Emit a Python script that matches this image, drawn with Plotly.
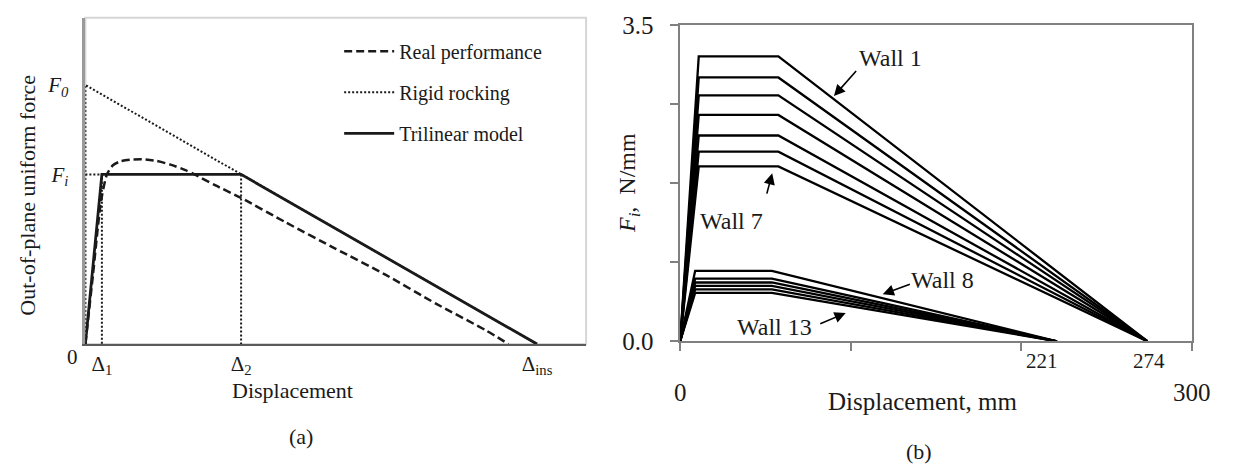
import plotly.graph_objects as go

# ---------------- Panel (a): schematic (normalised units) ----------------
DELTA_1 = 3.3
DELTA_2 = 31.1
DELTA_INS = 90.2
F_I = 52.0
F_0 = 79.4

REAL_X = [0, 1.5, 3.1, 4.3, 5.5, 7.0, 9.0, 11.5, 14.0, 17.0, 20.0, 21.8, 26.0, 31.1,
          40.0, 50.0, 60.0, 70.0, 80.0, 84.5]
REAL_Y = [0, 21.0, 43.6, 52.0, 54.8, 56.0, 56.5, 56.6, 56.2, 55.0, 53.3, 52.0, 48.6, 44.8,
          37.3, 29.2, 21.2, 12.4, 4.2, 0]

TRILINEAR_X = [0, DELTA_1, DELTA_2, DELTA_INS]
TRILINEAR_Y = [0, F_I, F_I, 0]

ROCKING_X = [0, 0, DELTA_INS]
ROCKING_Y = [0, F_0, 0]

GUIDE_X = [0, DELTA_1, DELTA_1, None, DELTA_2, DELTA_2]
GUIDE_Y = [F_I, F_I, 0, None, F_I, 0]

A_XTICK_VALS = [DELTA_1, DELTA_2, DELTA_INS]
A_XTICK_TEXT = ["Δ<sub>1</sub>", "Δ<sub>2</sub>", "Δ<sub>ins</sub>"]
A_YTICK_VALS = [F_I, F_0]
A_YTICK_TEXT = ["<i>F<sub>i</sub></i>", "<i>F<sub>0</sub></i>"]

# ---------------- Panel (b): trilinear curves of walls ----------------
WALL_NAMES = ["Wall %d" % i for i in range(1, 14)]
WALL_FI = [3.155, 2.922, 2.724, 2.507, 2.279, 2.100, 1.936,
           0.780, 0.693, 0.651, 0.613, 0.575, 0.536]
WALL_D1 = [10.9, 10.9, 10.9, 10.9, 10.9, 10.9, 10.9,
           8.8, 8.8, 8.8, 8.8, 8.8, 8.8]
WALL_D2 = [57.6, 57.6, 57.6, 57.6, 57.6, 57.6, 57.6,
           53.8, 53.8, 53.8, 53.8, 53.8, 53.8]
WALL_DINS = [274, 274, 274, 274, 274, 274, 274,
             221, 221, 221, 221, 221, 221]

B_XTICK_VALS = [0, 300]
B_XTICK_TEXT = ["0", "300"]
B_XMINOR_VALS = [100, 200]
B_YTICK_VALS = [0, 3.5]
B_YTICK_TEXT = ["0.0", "3.5"]
B_YMINOR_VALS = [0.875, 1.75, 2.625]
B_XMARK_VALS = [221, 274]
B_XMARK_LABEL_X = [212, 275]

CALLOUT_TEXT = ["Wall 1", "Wall 7", "Wall 8", "Wall 13"]
CALLOUT_TEXT_X = [123.3, 30.2, 154.0, 55.2]
CALLOUT_TEXT_Y = [3.137, 1.337, 0.679, 0.157]
CALLOUT_TAIL_X = [104.0, 50.6, 135.6, 81.3]
CALLOUT_TAIL_Y = [3.009, 1.619, 0.637, 0.188]
CALLOUT_HEAD_X = [90.2, 54.0, 118.8, 97.1]
CALLOUT_HEAD_Y = [2.716, 1.860, 0.522, 0.313]

W, H = 1243, 476
SERIF = "Liberation Serif"
INK = "#1a1a1a"

fig = go.Figure()

# Panel (a) traces
fig.add_trace(go.Scatter(x=REAL_X, y=REAL_Y, mode="lines", name="Real performance",
                         line=dict(color=INK, width=2.5, dash="8px,4px", shape="spline", smoothing=0.6),
                         legendgroup="a", xaxis="x", yaxis="y", cliponaxis=False))
fig.add_trace(go.Scatter(x=ROCKING_X, y=ROCKING_Y, mode="lines", name="Rigid rocking",
                         line=dict(color=INK, width=2, dash="2px,2px"),
                         legendgroup="b", xaxis="x", yaxis="y", cliponaxis=False))
fig.add_trace(go.Scatter(x=GUIDE_X, y=GUIDE_Y, mode="lines", showlegend=False,
                         line=dict(color=INK, width=2, dash="2px,2px"),
                         xaxis="x", yaxis="y", cliponaxis=False))
fig.add_trace(go.Scatter(x=TRILINEAR_X, y=TRILINEAR_Y, mode="lines", name="Trilinear model",
                         line=dict(color=INK, width=2.8),
                         legendgroup="c", xaxis="x", yaxis="y", cliponaxis=False))

# Panel (b) traces
for name, fi, d1, d2, dins in zip(WALL_NAMES, WALL_FI, WALL_D1, WALL_D2, WALL_DINS):
    fig.add_trace(go.Scatter(x=[0, d1, d2, dins], y=[0, fi, fi, 0], mode="lines", name=name,
                             showlegend=False, line=dict(color="#000", width=2.3),
                             xaxis="x2", yaxis="y2", cliponaxis=False))

fig.update_layout(
    width=W, height=H,
    margin=dict(l=0, r=0, t=0, b=0),
    paper_bgcolor="white", plot_bgcolor="white",
    font=dict(family=SERIF, color=INK, size=20),
    showlegend=True,
    legend=dict(x=340 / W, y=1 - 20 / H, xanchor="left", yanchor="top",
                bgcolor="rgba(0,0,0,0)", font=dict(family=SERIF, size=20, color=INK),
                tracegroupgap=12, itemwidth=50),
    xaxis=dict(domain=[81 / W, 592 / W], range=[0, 100], anchor="y",
               tickvals=A_XTICK_VALS, ticktext=A_XTICK_TEXT, ticks="",
               tickfont=dict(family=SERIF, size=21, color=INK),
               showgrid=False, zeroline=False, showline=True, linecolor="#5a5a5a", linewidth=1.5,
               layer="below traces"),
    yaxis=dict(domain=[(H - 351) / H, (H - 5) / H], range=[0, 100], anchor="x",
               tickvals=A_YTICK_VALS, ticktext=A_YTICK_TEXT, ticks="",
               tickfont=dict(family=SERIF, size=21, color=INK), ticklabelstandoff=10,
               showgrid=False, zeroline=False, showline=True, linecolor="#9a9a9a", linewidth=2.5,
               layer="below traces"),
    xaxis2=dict(domain=[688 / W, 1210 / W], range=[0, 300], anchor="y2",
                tickvals=B_XTICK_VALS, ticktext=B_XTICK_TEXT, ticks="outside", ticklen=8,
                tickcolor="#808080", tickwidth=1.5, ticklabelstandoff=20,
                minor=dict(tickvals=B_XMINOR_VALS, ticks="outside", ticklen=8,
                           tickcolor="#808080", tickwidth=1.5),
                tickfont=dict(family=SERIF, size=25, color=INK), ticklabeloverflow="allow",
                showgrid=False, zeroline=False, showline=True, linecolor="#808080", linewidth=1.5,
                mirror=True),
    yaxis2=dict(domain=[(H - 348) / H, (H - 13) / H], range=[0, 3.5], anchor="x2",
                tickvals=B_YTICK_VALS, ticktext=B_YTICK_TEXT, ticks="outside", ticklen=8,
                tickcolor="#808080", tickwidth=1.5, ticklabelstandoff=12,
                minor=dict(tickvals=B_YMINOR_VALS, ticks="outside", ticklen=8,
                           tickcolor="#808080", tickwidth=1.5),
                tickfont=dict(family=SERIF, size=25, color=INK), ticklabeloverflow="allow",
                showgrid=False, zeroline=False, showline=True, linecolor="#808080", linewidth=1.5,
                mirror=True),
)

# light frame around panel (a)
fig.add_shape(type="rect", xref="x domain", yref="y domain", x0=0, x1=1, y0=0, y1=1,
              line=dict(color="#d6d6d6", width=2), layer="below")


def txt(text, x, y, size, xref="paper", yref="paper", angle=0):
    return dict(text=text, xref=xref, yref=yref, x=x, y=y, xanchor="center", yanchor="middle",
                textangle=angle, showarrow=False, font=dict(family=SERIF, size=size, color=INK))


ann = []
ann.append(txt("0", 67.5 / W, 1 - 364.5 / H, 21))
ann.append(txt("Out-of-plane uniform force", 21 / W, 1 - 193 / H, 22, angle=-90))
ann.append(txt("Displacement", 292 / W, 1 - 400 / H, 22))
ann.append(txt("Displacement, mm", 935 / W, 1 - 412 / H, 25))
ann.append(txt("<i>F<sub>i</sub></i>,  N/mm", 636 / W, 1 - 180 / H, 24, angle=-90))
ann.append(txt("(a)", 301 / W, 1 - 449 / H, 22))
ann.append(txt("(b)", 932 / W, 1 - 465 / H, 22))
for lx, val in zip(B_XMARK_LABEL_X, B_XMARK_VALS):
    ann.append(txt(str(val), lx, 1 - 368.5 / H, 21, xref="x2"))
for t, tx, ty, ax_, ay_, hx, hy in zip(CALLOUT_TEXT, CALLOUT_TEXT_X, CALLOUT_TEXT_Y,
                                       CALLOUT_TAIL_X, CALLOUT_TAIL_Y,
                                       CALLOUT_HEAD_X, CALLOUT_HEAD_Y):
    ann.append(txt(t, tx, ty, 24, xref="x2", yref="y2"))
    ann.append(dict(text="", xref="x2", yref="y2", x=hx, y=hy, axref="x2", ayref="y2",
                    ax=ax_, ay=ay_, showarrow=True, arrowhead=2, arrowsize=1.4,
                    arrowwidth=1.6, arrowcolor="#000"))
fig.update_layout(annotations=ann)

fig.write_html("out.html")
